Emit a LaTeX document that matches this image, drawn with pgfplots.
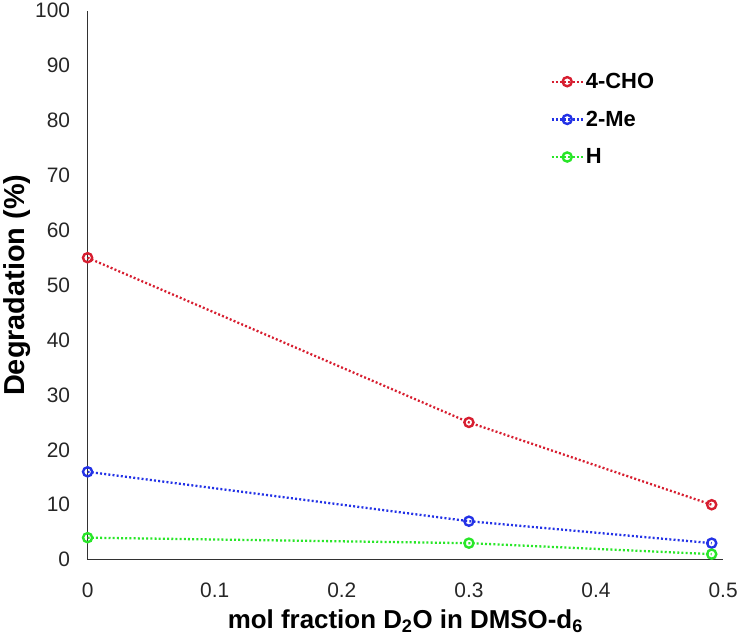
\documentclass[border=0pt]{standalone}
\usepackage{pgfplots}
\pgfplotsset{compat=1.18}
\usepackage{fontspec}
\setmainfont{Liberation Sans}
\definecolor{cred}{RGB}{215,30,48}
\definecolor{cblue}{RGB}{35,50,230}
\definecolor{cgreen}{RGB}{40,230,40}
\definecolor{axgray}{RGB}{50,50,50}
\begin{document}
\begin{tikzpicture}
\begin{axis}[
  scale only axis, width=638pt, height=551pt,
  xmin=0, xmax=0.5, ymin=0, ymax=100,
  axis lines=left,
  axis line style={-, line width=1.4pt, color=axgray},
  major tick length=0pt,
  xtick={0,0.1,0.2,0.3,0.4,0.5},
  xticklabels={0,0.1,0.2,0.3,0.4,0.5},
  ytick={0,10,...,100},
  /pgf/number format/assume math mode=true,
  tick label style={font=\fontsize{21}{25}\selectfont, text=black!85},
  yticklabel style={xshift=-14pt},
  xticklabel style={yshift=-20pt},
  xlabel={\bfseries mol fraction D\textsubscript{2}O in DMSO-d\textsubscript{6}},
  ylabel={\bfseries Degradation (\%)},
  xlabel style={font=\fontsize{26}{30}\selectfont, yshift=-5pt},
  ylabel style={font=\fontsize{29}{33}\selectfont, yshift=-2pt},
  legend style={draw=none, fill=none, at={(0.728,0.89)}, anchor=north west,
    font=\bfseries\fontsize{22}{26}\selectfont, row sep=17pt, inner sep=0pt},
  legend cell align=left,
  legend image code/.code={\draw[mark repeat=2,mark phase=2,#1] plot coordinates {(0cm,0cm) (0.55cm,0cm) (1.1cm,0cm)};},
  every axis plot/.append style={line width=2.3pt, dash pattern=on 2pt off 2.2pt},
  clip=false,
]
\addplot[color=cred, mark=o, mark size=4.6pt, mark options={solid, fill=white, line width=2.4pt}]
  coordinates {(0,55) (0.30,25) (0.491,10)};
\addlegendentry{4-CHO}
\addplot[color=cblue, mark=o, mark size=4.6pt, mark options={solid, fill=white, line width=2.4pt}]
  coordinates {(0,16) (0.30,7) (0.491,3)};
\addlegendentry{2-Me}
\addplot[color=cgreen, mark=o, mark size=4.6pt, mark options={solid, fill=white, line width=2.4pt}]
  coordinates {(0,4) (0.30,3) (0.491,1)};
\addlegendentry{H}
\end{axis}
\end{tikzpicture}
\end{document}
